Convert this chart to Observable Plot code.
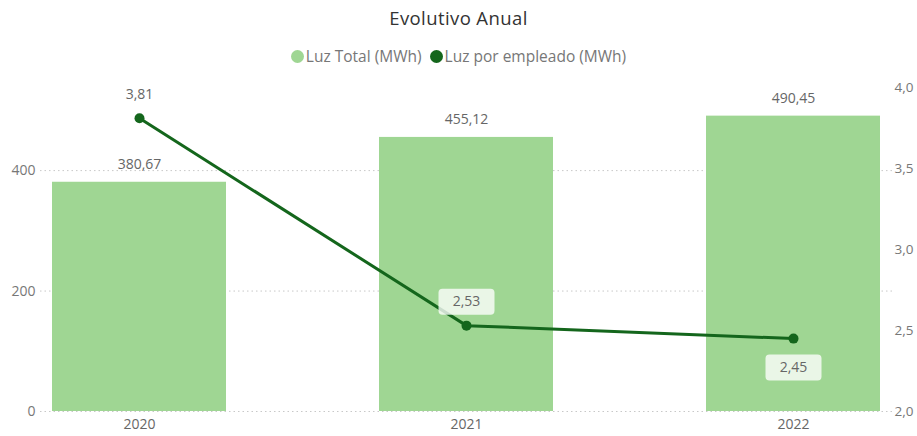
<!DOCTYPE html>
<html>
<head>
<meta charset="utf-8">
<script src="https://cdn.jsdelivr.net/npm/d3@7"></script>
<script src="https://cdn.jsdelivr.net/npm/@observablehq/plot@0.6"></script>
<style>
  body { margin: 0; background: #fff; }
  #wrap { width: 917px; font-family: "Open Sans", "Noto Sans", sans-serif; }
  #title { height: 36px; line-height: 36px; text-align: center; font-size: 18.5px; color: #333; letter-spacing: 0.4px; }
  #legend { height: 39px; display: flex; justify-content: center; align-items: center; font-size: 15.5px; color: #777; gap: 8px; }
  .sw { display: inline-block; width: 13px; height: 13px; border-radius: 50%; margin-right: 2px; vertical-align: -1px; }
</style>
</head>
<body>
<div id="wrap">
  <div id="title">Evolutivo Anual</div>
  <div id="legend"></div>
  <div id="chart"></div>
</div>
<script>
const years = ["2020", "2021", "2022"];
const luzTotal = [380.67, 455.12, 490.45];
const luzEmpleado = [3.81, 2.53, 2.45];
const leftTicks = [0, 200, 400];
const rightTicks = [2.0, 2.5, 3.0, 3.5, 4.0];
const seriesNames = ["Luz Total (MWh)", "Luz por empleado (MWh)"];
const colors = ["#9fd693", "#14661c"];

const data = years.map((y, i) => ({year: y, total: luzTotal[i], emp: luzEmpleado[i]}));

const yMax = 538;
const rMin = 2, rMax = 4;
const toLeft = v => (v - rMin) / (rMax - rMin) * yMax;
const fromLeft = v => rMin + v / yMax * (rMax - rMin);
const fmtComma = (v, n) => v.toFixed(n).replace(".", ",");

// legend
const legend = document.getElementById("legend");
seriesNames.forEach((name, i) => {
  const s = document.createElement("span");
  s.innerHTML = `<span class="sw" style="background:${colors[i]}"></span>${name}`;
  legend.appendChild(s);
});

const box = {
  draw(ctx) {
    const w = 28, h = 13, r = 4;
    ctx.moveTo(-w + r, -h);
    ctx.lineTo(w - r, -h);
    ctx.arcTo(w, -h, w, -h + r, r);
    ctx.lineTo(w, h - r);
    ctx.arcTo(w, h, w - r, h, r);
    ctx.lineTo(-w + r, h);
    ctx.arcTo(-w, h, -w, h - r, r);
    ctx.lineTo(-w, -h + r);
    ctx.arcTo(-w, -h, -w + r, -h, r);
    ctx.closePath();
  }
};

const above = data.filter((d, i) => i < 2);
const below = data.filter((d, i) => i >= 2);

const chart = Plot.plot({
  width: 917,
  height: 361,
  marginTop: 12,
  marginBottom: 25,
  marginLeft: 40,
  marginRight: 24,
  style: {fontFamily: "'Open Sans', 'Noto Sans', sans-serif", fontSize: "13px", color: "#666", background: "#fff", overflow: "visible"},
  x: {domain: years, paddingInner: 0.467, paddingOuter: 0.034, label: null},
  y: {domain: [0, yMax], label: null},
  marks: [
    Plot.ruleY(leftTicks, {stroke: "#c8c8c8", strokeDasharray: "1.5,3"}),
    Plot.barY(data, {x: "year", y: "total", fill: colors[0]}),
    Plot.axisX({tickSize: 0, tickPadding: 8, fontSize: 14, fill: "#666"}),
    Plot.axisY({anchor: "left", ticks: leftTicks, tickSize: 0, tickPadding: 5, fontSize: 14, fill: "#777", label: null}),
    Plot.axisY({anchor: "right", ticks: rightTicks.map(toLeft), tickSize: 0, tickPadding: 1, fontSize: 13.5, fill: "#777", label: null,
      tickFormat: d => fmtComma(fromLeft(d), 1)}),
    Plot.text(data, {x: "year", y: "total", text: d => fmtComma(d.total, 2), dy: -18, fill: "#666", fontSize: 14}),
    Plot.line(data, {x: "year", y: d => toLeft(d.emp), stroke: colors[1], strokeWidth: 3}),
    Plot.dot(data, {x: "year", y: d => toLeft(d.emp), r: 5, fill: colors[1]}),
    Plot.dot(above, {x: "year", y: d => toLeft(d.emp), symbol: box, fill: "#fff", fillOpacity: 0.78, dy: -24}),
    Plot.dot(below, {x: "year", y: d => toLeft(d.emp), symbol: box, fill: "#fff", fillOpacity: 0.78, dy: 29}),
    Plot.text(above, {x: "year", y: d => toLeft(d.emp), text: d => fmtComma(d.emp, 2), dy: -24, fill: "#666", fontSize: 14}),
    Plot.text(below, {x: "year", y: d => toLeft(d.emp), text: d => fmtComma(d.emp, 2), dy: 29, fill: "#666", fontSize: 14})
  ]
});
document.getElementById("chart").appendChild(chart);
</script>
</body>
</html>
